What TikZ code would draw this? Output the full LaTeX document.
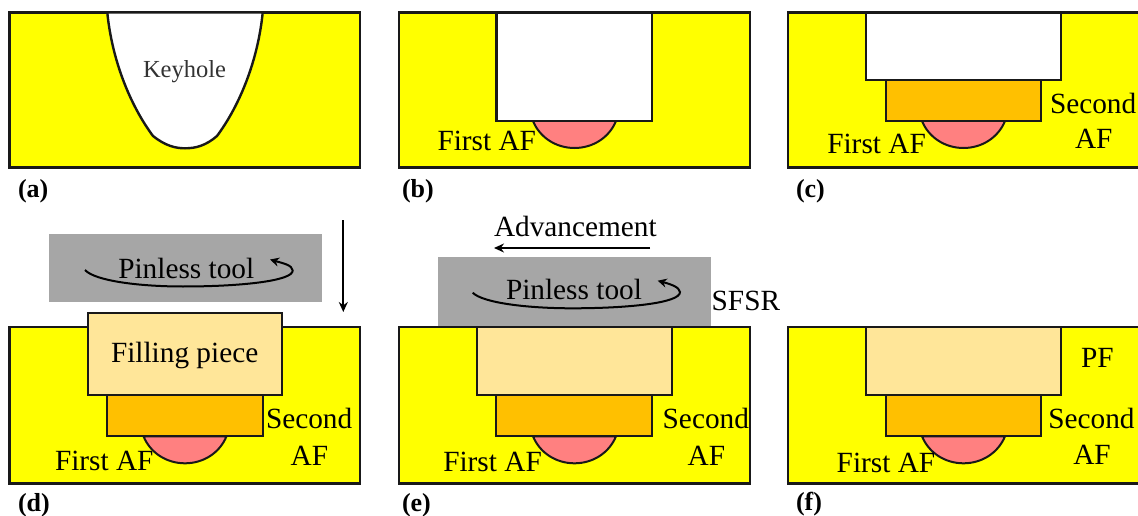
\documentclass[tikz,border=0pt]{standalone}
\usepackage{fontspec}
\setmainfont{Liberation Serif}
\usetikzlibrary{arrows.meta}
\definecolor{plate}{HTML}{FFFF00}
\definecolor{firstaf}{HTML}{FF8080}
\definecolor{secondaf}{HTML}{FFC000}
\definecolor{fillpiece}{HTML}{FFE699}
\definecolor{toolgray}{HTML}{A6A6A6}
\tikzset{
  outline/.style={draw=black!90,line width=2.4pt,line join=miter},
  platebox/.style={outline,fill=plate},
  whitebox/.style={outline,fill=white},
  secondbox/.style={draw=black!90,line width=2.1pt,fill=secondaf},
  fillbox/.style={draw=black!90,line width=2.1pt,fill=fillpiece},
  capshape/.style={draw=black!90,line width=2pt,fill=firstaf},
  toolbox/.style={fill=toolgray,draw=none},
  lbl/.style={anchor=base west,inner sep=0pt,outer sep=0pt,font=\fontsize{29.3}{32}\selectfont},
  panel/.style={anchor=base west,inner sep=0pt,outer sep=0pt,font=\fontsize{26}{28}\selectfont\bfseries},
  movearrow/.style={draw=black,line width=2pt,-{Stealth[length=10pt,width=9pt]}},
  spin/.style={draw=black,line width=2pt,-{Stealth[length=9pt,width=9pt]}}
}
\newcommand{\capat}[3]{% cx, half width, top y
  \path[capshape] (#1-#2,#3) .. controls (#1-#2+7,#3+17) and (#1-18,#3+27) .. (#1,#3+27)
     .. controls (#1+18,#3+27) and (#1+#2-7,#3+17) .. (#1+#2,#3) -- cycle;}
\begin{document}
\begin{tikzpicture}[x=1pt,y=-1pt]
\useasboundingbox (0,0) rectangle (1138,516);
% (a)
\path[platebox] (9.5,12.5) rectangle (360,167.5);
\path[outline,fill=white] (107.3,12.5) .. controls (112,60) and (130,105) .. (153,136)
  .. controls (165,145.5) and (175,148.3) .. (185,148.3)
  .. controls (196,148.3) and (206,145.5) .. (217,136)
  .. controls (240,105) and (258,60) .. (262.7,12.5) -- cycle;
\node[lbl,text=black!80,font=\fontsize{24.5}{28}\selectfont] (keyhole) at (143,78) {Keyhole};
\node[panel] (pa) at (18,197) {(a)};
% (b)
\path[platebox] (399,12.5) rectangle (749.7,167.5);
\capat{574.5}{41.5}{121}
\path[whitebox] (496.3,12.5) rectangle (652,121);
\node[lbl] (b1) at (437.5,150.7) {First AF};
\node[panel] (pb) at (402,197) {(b)};
% (c)
\path[platebox] (788,12.5) rectangle (1140,167.5);
\capat{963.5}{41.5}{121}
\path[secondbox] (885.7,80.3) rectangle (1041.3,121);
\path[whitebox] (866,12.5) rectangle (1060.7,80.3);
\node[lbl] (c1) at (827.3,153.7) {First AF};
\node[lbl] (c2) at (1050,113.3) {Second};
\node[lbl] (c3) at (1075,149) {AF};
\node[panel] (pc) at (796,197) {(c)};
% (d)
\path[toolbox] (48.7,234) rectangle (321.7,302.3);
\path[platebox] (9.5,327) rectangle (360,483.3);
\capat{185}{41.5}{436.3}
\path[secondbox] (107,395.3) rectangle (263,436.3);
\path[fillbox] (87.7,312.7) rectangle (282.3,395.3);
\node[lbl] (d0) at (118.3,278.3) {Pinless tool};
\node[lbl] (d4) at (111,362.7) {Filling piece};
\node[lbl] (d1) at (55,470) {First AF};
\node[lbl] (d2) at (266,428.3) {Second};
\node[lbl] (d3) at (290.7,465) {AF};
\node[panel] (pd) at (18,511) {(d)};
\coordinate (dspinA) at (85,270);
\coordinate (dspinB) at (270,259.5);
\path[spin] (dspinA) .. controls (95,281) and (140,286.5) .. (183,286.5)
  .. controls (240,286.5) and (293,281) .. (292.7,270.5)
  .. controls (292.5,265) and (282,263) .. (dspinB);
\coordinate (dtop) at (343.3,220);
\coordinate (dbot) at (343.3,312);
\path[movearrow] (dtop) -- (dbot);
% (e)
\path[toolbox] (437.7,257.3) rectangle (710.7,327);
\path[platebox] (399,327) rectangle (749.7,483.3);
\capat{574.5}{41.5}{436.3}
\path[secondbox] (496.3,395.3) rectangle (652,436.3);
\path[fillbox] (477,327) rectangle (671.7,395.3);
\node[lbl] (e0) at (506,299.3) {Pinless tool};
\node[lbl] (e1) at (443.3,471) {First AF};
\node[lbl] (e2) at (662.7,428.3) {Second};
\node[lbl] (e3) at (687.7,465) {AF};
\node[lbl] (e4) at (711.7,310.7) {SFSR};
\node[lbl] (e5) at (494,236.7) {Advancement};
\node[panel] (pe) at (402,511) {(e)};
\coordinate (espinA) at (472.7,292.7);
\coordinate (espinB) at (657.7,280.7);
\path[spin] (espinA) .. controls (483,303) and (528,308.3) .. (572,308.3)
  .. controls (628,308.3) and (680.5,303) .. (680,292)
  .. controls (679.5,287) and (670,284) .. (espinB);
\coordinate (eright) at (650,248);
\coordinate (eleft) at (494,248);
\path[movearrow] (eright) -- (eleft);
% (f)
\path[platebox] (788,327) rectangle (1140,483.3);
\capat{963.5}{41.5}{436.3}
\path[secondbox] (885.7,395.3) rectangle (1041.3,436.3);
\path[fillbox] (866,327) rectangle (1060.7,395.3);
\node[lbl] (f1) at (836.7,472.3) {First AF};
\node[lbl] (f2) at (1048.3,428.3) {Second};
\node[lbl] (f3) at (1073.3,464.3) {AF};
\node[lbl] (f4) at (1081,367.3) {PF};
\node[panel] (pf) at (796,510) {(f)};
\end{tikzpicture}
\end{document}
